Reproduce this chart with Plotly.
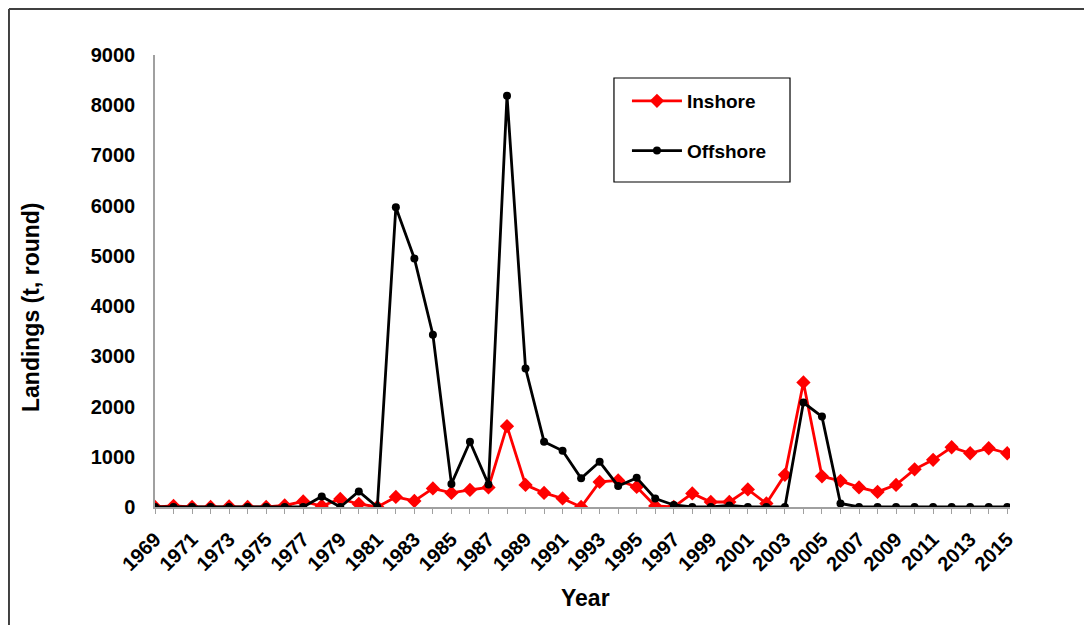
import plotly.graph_objects as go

years = list(range(1969, 2016))
inshore = [0, 20, 0, 0, 10, 0, 0, 30, 110, 20, 160, 60, 0, 200, 120,
           370, 280, 340, 390, 1610, 440, 280, 170, 0, 500, 530, 400, 20, 0,
           270, 100, 100, 350, 70, 640, 2480, 610, 520, 390, 300, 440,
           750, 940, 1190, 1070, 1170, 1070]
offshore = [0, 0, 0, 0, 0, 0, 0, 0, 0, 210, 0, 310, 0, 5970, 4950,
            3430, 460, 1300, 450, 8190, 2760, 1300, 1120, 570, 900, 420, 580, 170, 40,
            0, 0, 30, 0, 0, 0, 2080, 1800, 70, 0, 0, 0,
            0, 0, 0, 0, 0, 0]
tick_labels = [str(y) if (y - 1969) % 2 == 0 else "" for y in years]
y_ticks = [0, 1000, 2000, 3000, 4000, 5000, 6000, 7000, 8000, 9000]

FONT = "Liberation Sans, Arial"

fig = go.Figure()
fig.add_trace(go.Scatter(x=years, y=inshore, name="Inshore", mode="lines+markers",
                         legendgroup="a",
                         line=dict(color="#FF0000", width=2.8),
                         marker=dict(symbol="diamond", size=11, color="#FF0000")))
fig.add_trace(go.Scatter(x=years, y=offshore, name="Offshore", mode="lines+markers",
                         legendgroup="b",
                         line=dict(color="#000000", width=2.8),
                         marker=dict(symbol="circle", size=8, color="#000000")))

fig.update_layout(
    width=1092, height=625,
    margin=dict(l=147, r=90, t=47, b=126),
    paper_bgcolor="white", plot_bgcolor="white",
    font=dict(family=FONT, color="black"),
    showlegend=True,
    legend=dict(x=0.552, y=0.9403, xanchor="left", yanchor="top",
                borderwidth=0, bgcolor="rgba(0,0,0,0)",
                font=dict(size=19, family=FONT, weight="bold"),
                tracegroupgap=22, itemwidth=50),
    xaxis=dict(range=[1969, 2015.15], tickmode="array", tickvals=years, ticktext=tick_labels,
               tickangle=-45, ticks="outside", ticklen=5, tickcolor="#A0A0A0",
               ticklabelstandoff=6,
               showline=True, linecolor="#A0A0A0", linewidth=1.5, showgrid=False, zeroline=False,
               tickfont=dict(size=20, weight="bold")),
    yaxis=dict(range=[0, 9000], tickvals=y_ticks, showline=True, linecolor="#A0A0A0",
               linewidth=1.5, showgrid=False, zeroline=False, ticks="",
               ticklabelstandoff=14,
               tickfont=dict(size=20, weight="bold")),
    annotations=[
        dict(text="Landings (t, round)", xref="paper", yref="paper", x=-0.145, y=0.4425,
             xanchor="center", yanchor="middle", textangle=-90, showarrow=False,
             font=dict(size=23, weight="bold", family=FONT)),
        dict(text="Year", xref="paper", yref="paper", x=0.503, y=-0.2013,
             xanchor="center", yanchor="middle", showarrow=False,
             font=dict(size=23, weight="bold", family=FONT)),
    ],
)
# legend frame
fig.add_shape(type="rect", xref="paper", yref="paper", x0=0.5368, x1=0.7427, y0=0.719, y1=0.9491,
              line=dict(color="black", width=1.2), fillcolor="white", layer="below")
# outer chart border (left and top edges visible)
fig.add_shape(type="line", xref="paper", yref="paper", x0=-0.1708, x1=-0.1708, y0=-0.5, y1=1.1018,
              line=dict(color="#404040", width=2))
fig.add_shape(type="line", xref="paper", yref="paper", x0=-0.1708, x1=1.3, y0=1.1018, y1=1.1018,
              line=dict(color="#404040", width=2))
fig.write_html("out.html")
